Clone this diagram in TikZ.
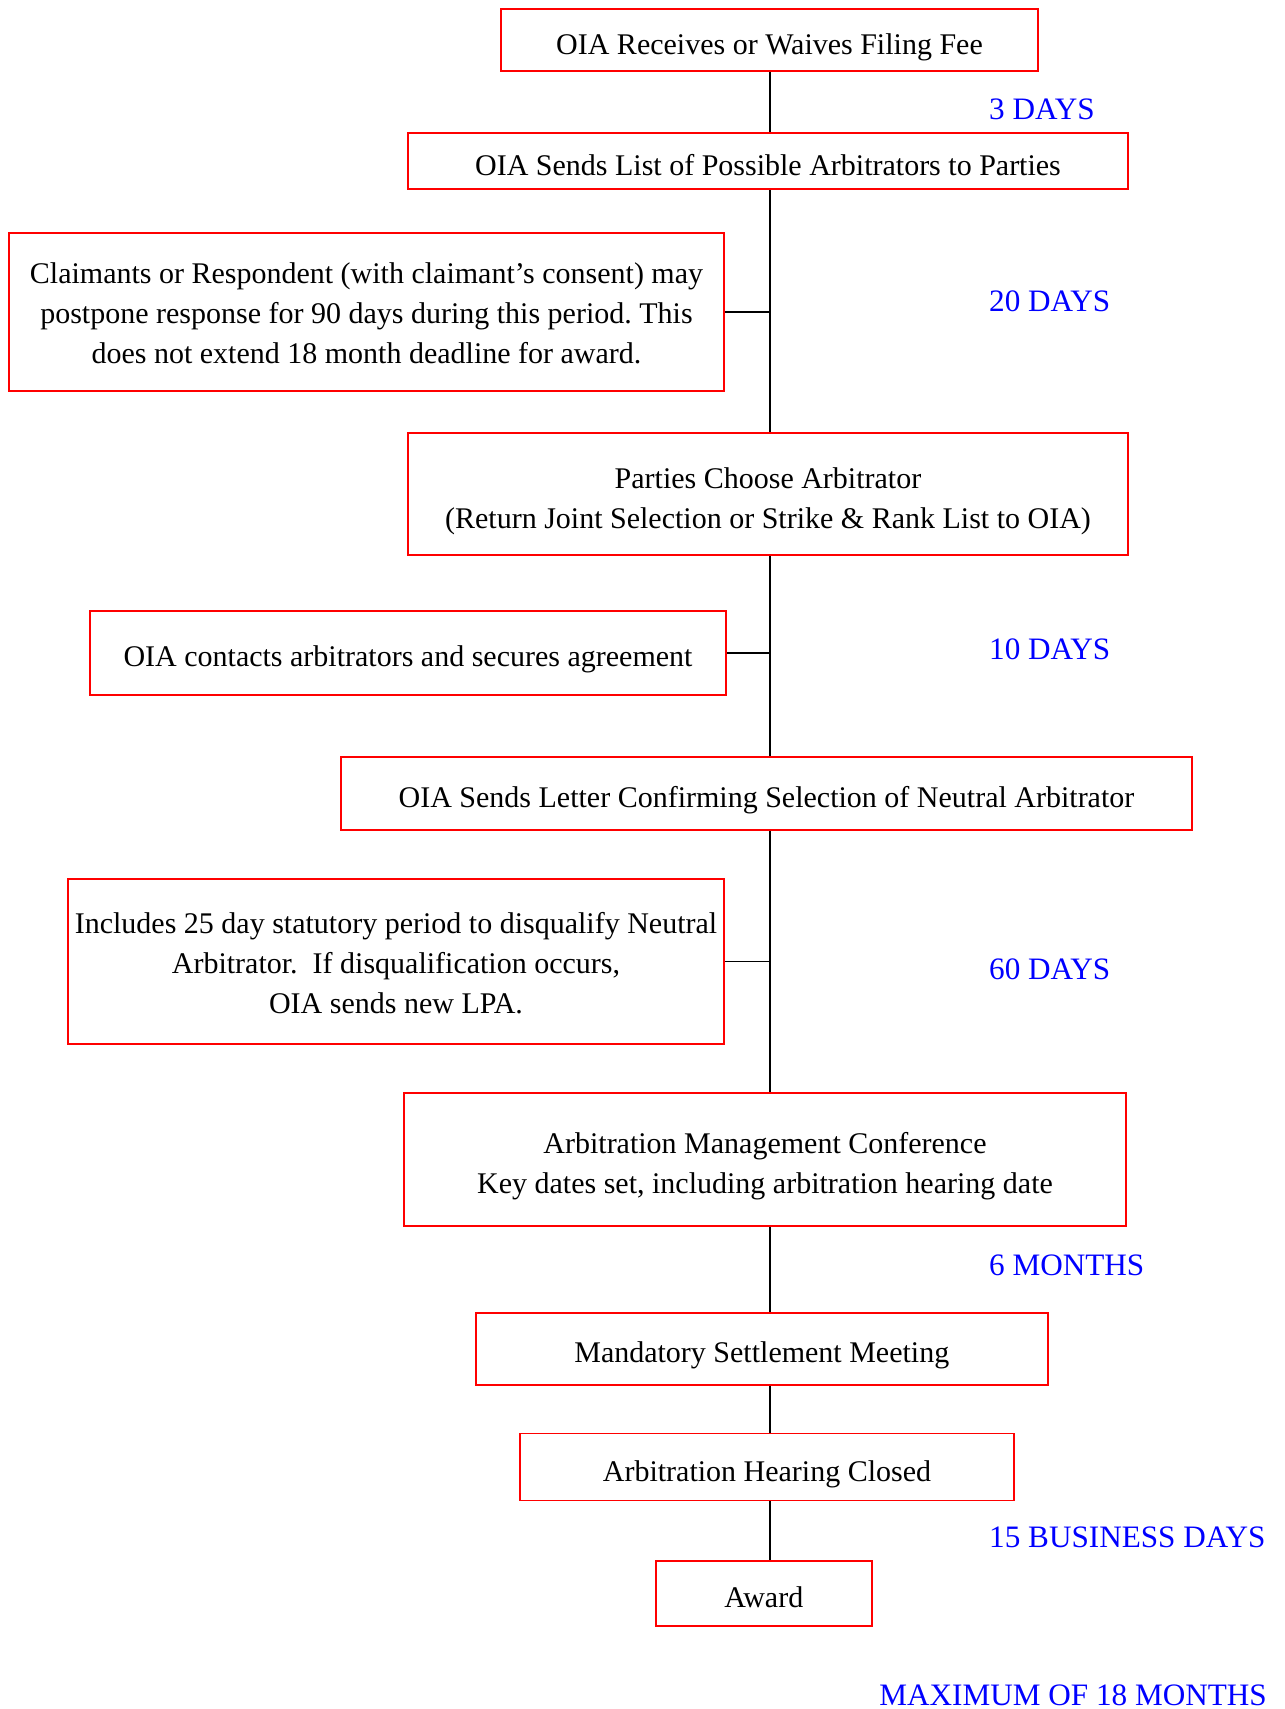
\documentclass[tikz,border=0pt]{standalone}
\usepackage{fontspec}
\setmainfont{Liberation Serif}
\frenchspacing
\begin{document}
\begin{tikzpicture}[x=1pt, y=-1pt,
        font=\fontsize{30}{40}\selectfont,
        box/.style={draw=red, line width=1.6pt, inner sep=0pt, align=center, text height=28pt, text depth=0pt},
        days/.style={text=blue, inner sep=0pt, anchor=base west, font=\fontsize{31.2}{40}\selectfont},
        link/.style={line width=1.5pt}]
    \useasboundingbox (0,0) rectangle (1285,1709);
    \coordinate (spine) at (770,0);
    % main steps
    \node[box, minimum width=537pt, minimum height=62pt] (recv) at (769.5,40) {OIA Receives or Waives Filing Fee};
    \node[box, minimum width=720pt, minimum height=56pt] (list) at (768,161) {OIA Sends List of Possible Arbitrators to Parties};
    \node[box, minimum width=720pt, minimum height=122pt, text height=68pt] (choose) at (768,494) {Parties Choose Arbitrator\\(Return Joint Selection or Strike \& Rank List to OIA)};
    \node[box, minimum width=851pt, minimum height=73pt] (letter) at (766.5,793.5) {OIA Sends Letter Confirming Selection of Neutral Arbitrator};
    \node[box, minimum width=722pt, minimum height=133pt, text height=68pt] (conf) at (765,1159.5) {Arbitration Management Conference\\Key dates set, including arbitration hearing date};
    \node[box, minimum width=572pt, minimum height=72pt] (settle) at (761.8,1348.8) {Mandatory Settlement Meeting};
    \node[box, minimum width=494pt, minimum height=67pt] (hearing) at (767,1467) {Arbitration Hearing Closed};
    \node[box, minimum width=216pt, minimum height=65pt] (award) at (763.8,1593.5) {Award};
    % side notes
    \node[box, minimum width=715pt, minimum height=158pt, text height=102pt] (claim) at (366.5,312) {Claimants or Respondent (with claimant’s consent) may\\postpone response for 90 days during this period. This\\does not extend 18 month deadline for award.};
    \node[box, minimum width=636pt, minimum height=84pt] (contact) at (408,652.8) {OIA contacts arbitrators and secures agreement};
    \node[box, minimum width=656pt, minimum height=165pt, text height=104pt] (disq) at (396,961.5) {Includes 25 day statutory period to disqualify Neutral\\Arbitrator.\ \ If disqualification occurs,\\OIA sends new LPA.};
    % durations
    \node[days] (d3) at (989,119) {3 DAYS};
    \node[days] (d20) at (989,311) {20 DAYS};
    \node[days] (d10) at (989,659) {10 DAYS};
    \node[days] (d60) at (989,979) {60 DAYS};
    \node[days] (m6) at (989,1275) {6 MONTHS};
    \node[days] (b15) at (989,1547) {15 BUSINESS DAYS};
    \node[days, anchor=base east] (max) at (1267,1705) {MAXIMUM OF 18 MONTHS};
    % connectors
    \draw[link] (recv.south -| spine) -- (list.north -| spine);
    \draw[link] (list.south -| spine) -- (choose.north -| spine);
    \draw[link] (choose.south -| spine) -- (letter.north -| spine);
    \draw[link] (letter.south -| spine) -- (conf.north -| spine);
    \draw[link] (conf.south -| spine) -- (settle.north -| spine);
    \draw[link] (settle.south -| spine) -- (hearing.north -| spine);
    \draw[link] (hearing.south -| spine) -- (award.north -| spine);
    \draw[link] (claim.east) -- (claim.east -| spine);
    \draw[link] (contact.east) -- (contact.east -| spine);
    \draw[link] (disq.east) -- (disq.east -| spine);
\end{tikzpicture}
\end{document}
